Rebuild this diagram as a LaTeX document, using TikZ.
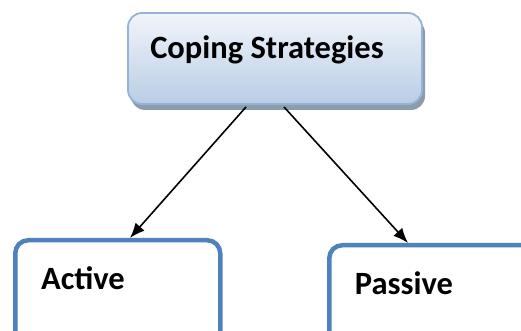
\documentclass[tikz,border=0pt]{standalone}
\usepackage{fontspec}
\setmainfont{Carlito}
\usetikzlibrary{arrows.meta,shadows}

\definecolor{boxblue}{HTML}{4F81BD}
\definecolor{topedge}{HTML}{95B3D7}
\definecolor{topfill}{HTML}{B9CDE5}
\definecolor{shadowgray}{HTML}{8C9BAE}

\tikzset{
  topbox/.style={draw=topedge, line width=1.8pt, rounded corners=14pt,
    top color=white!80!topfill, bottom color=topfill,
    drop shadow={shadow xshift=3pt, shadow yshift=-6pt, fill=shadowgray, opacity=1},
    minimum width=294pt, minimum height=91pt},
  subbox/.style={draw=boxblue, line width=4.5pt, rounded corners=13pt, fill=white,
    minimum width=205pt, minimum height=110pt},
  boxtext/.style={font=\bfseries\fontsize{32.5}{38}\selectfont, inner sep=0pt},
  link/.style={line width=1.6pt, -{Latex[length=15pt,width=12pt]}}
}

\begin{document}
\begin{tikzpicture}[x=1pt,y=1pt]
                        \useasboundingbox (0,0) rectangle (521,331);
                        \clip (0,0) rectangle (521,331);

                        % Top box
                        \node[topbox] (coping) at (275,272.5) {};
                        \node[boxtext] (copingtext) at (267,281) {Coping Strategies};

                        % Lower boxes
                        \node[subbox, anchor=north west] (active) at (13,93) {};
                        \node[subbox, anchor=north west, minimum width=215pt] (passive) at (327,88) {};
                        \node[boxtext] (activetext) at (83,53) {Active};
                        \node[boxtext] (passivetext) at (404,48) {Passive};

                        % Arrows
                        \coordinate (lstart) at (246,224);
                        \coordinate (rstart) at (284,224);
                        \draw[link] (lstart) -- (active.north west -| 130,0);
                        \draw[link] (rstart) -- (passive.north west -| 408,0);
                      \end{tikzpicture}
\end{document}
